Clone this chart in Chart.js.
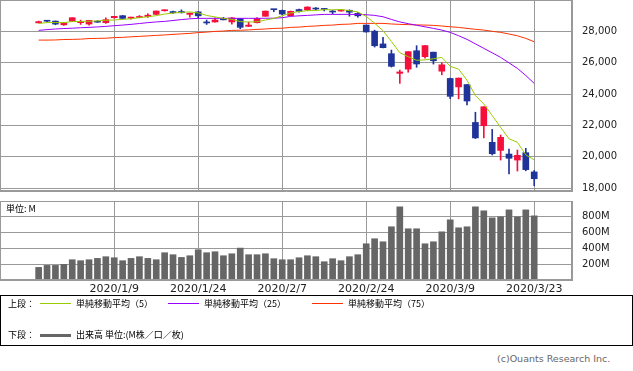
<!DOCTYPE html>
<html>
<head>
<meta charset="utf-8">
<script src="https://cdn.jsdelivr.net/npm/chart.js@4"></script>
<style>
  body { margin: 0; width: 633px; height: 371px; background: #fff; position: relative; overflow: hidden; font-family: "DejaVu Sans", sans-serif; }
  canvas { position: absolute; left: 0; }
  #price { top: 0; }
  #vol { top: 201px; }
  .t { position: absolute; font-family: "Noto Sans CJK JP", sans-serif; font-size: 9px; line-height: 10px; color: #000; white-space: nowrap; }
  .ln { position: absolute; width: 31px; height: 1px; }
  #legend { position: absolute; left: 0; top: 295px; width: 631px; height: 49px; border: 1px solid #000; }
  #copy { position: absolute; left: 497px; top: 353px; font-size: 9.5px; color: #666; white-space: nowrap; }
</style>
</head>
<body>
<canvas id="price" width="633" height="200"></canvas>
<canvas id="vol" width="633" height="96"></canvas>
<div class="t" style="left:6px;top:204px;">単位: M</div>
<div id="legend"></div>
<div class="t" style="left:8px;top:299px;">上段：</div>
<div class="ln" style="left:40px;top:303px;background:#99cc00;"></div>
<div class="t" style="left:76px;top:299px;">単純移動平均（5）</div>
<div class="ln" style="left:168px;top:303px;background:#9900ff;"></div>
<div class="t" style="left:204px;top:299px;">単純移動平均（25）</div>
<div class="ln" style="left:312px;top:303px;background:#ff3300;"></div>
<div class="t" style="left:348px;top:299px;">単純移動平均（75）</div>
<div class="t" style="left:8px;top:330px;">下段：</div>
<div class="ln" style="left:40px;top:334px;height:3px;background:#666;"></div>
<div class="t" style="left:76px;top:330px;">出来高 単位:(M株／口／枚)</div>
<div id="copy">(c)Ouants Research Inc.</div>
<script>
// trading days shown on the chart
const dates = ['2019/12/26','2019/12/27','2019/12/30','2019/12/31','2020/1/2','2020/1/3','2020/1/6','2020/1/7','2020/1/8','2020/1/9',
  '2020/1/10','2020/1/13','2020/1/14','2020/1/15','2020/1/16','2020/1/17','2020/1/21','2020/1/22','2020/1/23','2020/1/24',
  '2020/1/27','2020/1/28','2020/1/29','2020/1/30','2020/1/31','2020/2/3','2020/2/4','2020/2/5','2020/2/6','2020/2/7',
  '2020/2/10','2020/2/11','2020/2/12','2020/2/13','2020/2/14','2020/2/18','2020/2/19','2020/2/20','2020/2/21','2020/2/24',
  '2020/2/25','2020/2/26','2020/2/27','2020/2/28','2020/3/2','2020/3/3','2020/3/4','2020/3/5','2020/3/6','2020/3/9',
  '2020/3/10','2020/3/11','2020/3/12','2020/3/13','2020/3/16','2020/3/17','2020/3/18','2020/3/19','2020/3/20','2020/3/23'];
const tickIdx = [9, 19, 29, 39, 49, 59];
const priceTicks = [18000, 20000, 22000, 24000, 26000, 28000];
const volTicks = [200, 400, 600, 800];

const open  = [28539,28675,28654,28415,28639,28553,28465,28639,28556,28874,29000,28842,28885,28940,29082,29313,29225,29263,29080,29243,
  28542,28597,28820,28600,28813,28319,28550,28961,29390,29340,29000,29390,29365,29450,29440,29279,29297,29345,29146,28402,
  28008,27196,26572,25320,25590,26762,26383,26671,25457,24992,24453,24604,22184,21974,20917,20400,20169,19786,20254,19028];
const high  = [28655,28701,28664,28547,28872,28716,28709,28685,28866,28958,29009,28910,29009,29127,29300,29374,29290,29373,29170,29264,
  28723,28856,28892,28890,28813,28590,28880,29301,29409,29360,29300,29416,29568,29520,29464,29340,29409,29369,29200,28402,
  28075,27618,26805,25528,26706,27084,27102,26671,25994,25018,25020,24604,22837,23186,21743,21380,20488,20424,20531,19122];
const low   = [28535,28608,28419,28376,28627,28440,28393,28565,28502,28839,28784,28782,28870,28888,29068,29289,29150,29170,28904,28870,
  28440,28580,28729,28460,28169,28300,28540,28961,29250,29060,28990,29228,29345,29370,29300,29117,29290,28966,28900,27944,
  26997,26940,25720,24681,25391,25706,26286,25911,25226,23700,23690,23300,21155,21200,20110,19786,18900,19085,19100,18150];
const close = [28621,28645,28462,28538,28869,28635,28703,28584,28745,28957,28824,28907,28940,29030,29298,29348,29196,29186,29160,28990,
  28536,28723,28734,28859,28256,28400,28808,29291,29380,29103,29277,29276,29551,29423,29398,29232,29348,29220,28992,27961,
  27081,26958,25767,25409,26703,25917,27091,26121,25865,23851,25018,23553,21200,23186,20189,21237,19899,20087,19174,18592];

const ma5  = [28504,28558,28559,28557,28627,28630,28642,28666,28707,28725,28763,28803,28874,28932,29000,29105,29162,29212,29238,29176,
  29014,28919,28829,28768,28622,28595,28611,28723,28827,28996,29172,29265,29317,29326,29385,29376,29391,29324,29238,28951,
  28521,28042,27352,26635,26384,26151,26178,26248,26340,25769,25589,24882,23898,23362,22629,21873,21142,20920,20117,19798];
const ma25 = [28061,28110,28150,28180,28200,28230,28253,28280,28316,28360,28400,28444,28500,28555,28600,28635,28690,28750,28800,28827,
  28830,28830,28830,28830,28830,28830,28830,28835,28840,28870,28954,28990,29018,29050,29082,29082,29082,29082,29082,29060,
  29018,28930,28760,28600,28490,28390,28290,28189,28080,27934,27720,27487,27200,26913,26630,26338,25990,25636,25180,24680];
const ma75 = [27442,27442,27450,27480,27487,27500,27540,27551,27560,27600,27615,27650,27679,27710,27742,27770,27806,27840,27870,27920,
  27950,27997,28020,28061,28070,28090,28125,28150,28189,28200,28253,28270,28316,28340,28380,28400,28444,28460,28508,28508,
  28508,28508,28470,28444,28430,28410,28400,28380,28340,28291,28250,28189,28130,28080,28000,27934,27830,27716,27550,27334];

// volume in millions
const volume = [158,183,183,196,254,242,254,271,292,279,242,271,292,271,254,342,317,283,304,379,
  342,354,304,329,400,317,317,329,267,254,254,279,304,292,229,267,242,292,317,454,
  517,479,667,917,642,642,454,479,604,754,654,667,917,867,779,792,879,792,879,804];

const UP = '#f5103c', DOWN = '#1f3399', GRID = '#999';
const candleColor = close.map((c, i) => c >= open[i] ? UP : DOWN);
const xy = arr => arr.map((v, i) => ({ x: i, y: v }));

Chart.defaults.font.family = '"DejaVu Sans", sans-serif';
Chart.defaults.font.size = 10;

const frame = {
  id: 'frame',
  afterDraw(chart) {
    const { ctx, chartArea: a } = chart;
    ctx.save();
    ctx.strokeStyle = GRID;
    ctx.lineWidth = 1;
    ctx.strokeRect(a.left + 0.5, a.top + 0.5, a.right - a.left - 1, a.bottom - a.top - 1);
    ctx.restore();
  }
};

const xScale = (showLabels) => ({
  type: 'linear', min: -4.6, max: 63.5, offset: false,
  afterBuildTicks: s => { s.ticks = tickIdx.map(v => ({ value: v })); },
  ticks: { display: showLabels, autoSkip: false, maxRotation: 0, padding: 3, color: '#222', font: { size: 11 },
    callback: v => dates[v] },
  grid: { color: GRID, drawTicks: false, offset: false },
  border: { color: GRID },
  afterFit: s => { s.height = showLabels ? 17 : 0; s.paddingLeft = 0; s.paddingRight = 0; }
});

new Chart(document.getElementById('price'), {
  type: 'bar',
  data: {
    datasets: [
      { type: 'line', data: xy(ma5), borderColor: '#99cc00', borderWidth: 1, pointRadius: 0, order: 0 },
      { type: 'line', data: xy(ma25), borderColor: '#9900ff', borderWidth: 1, pointRadius: 0, order: 0 },
      { type: 'line', data: xy(ma75), borderColor: '#ff3300', borderWidth: 1, pointRadius: 0, order: 0 },
      { data: open.map((o, i) => ({ x: i, y: [o, close[i]] })), backgroundColor: candleColor,
        barThickness: 6, minBarLength: 1, grouped: false, order: 1 },
      { data: low.map((l, i) => ({ x: i, y: [l, high[i]] })), backgroundColor: candleColor,
        barThickness: 1, grouped: false, order: 2 }
    ]
  },
  options: {
    responsive: false, animation: false, devicePixelRatio: 1,
    layout: { padding: { left: 0, right: 0, top: 0, bottom: 9 } },
    plugins: { legend: { display: false }, tooltip: { enabled: false } },
    scales: {
      x: xScale(false),
      y: {
        position: 'right', min: 17810, max: 30000,
        afterBuildTicks: s => { s.ticks = priceTicks.map(v => ({ value: v })); },
        ticks: { padding: 10, color: '#222', callback: v => v.toLocaleString('en-US') },
        grid: { color: GRID, drawTicks: false },
        border: { color: GRID },
        afterFit: s => { s.width = 61; s.paddingTop = 0; s.paddingBottom = 0; }
      }
    }
  },
  plugins: [frame]
});

new Chart(document.getElementById('vol'), {
  type: 'bar',
  data: {
    datasets: [
      { data: xy(volume), backgroundColor: '#666', barThickness: 6 }
    ]
  },
  options: {
    responsive: false, animation: false, devicePixelRatio: 1,
    layout: { padding: 0 },
    plugins: { legend: { display: false }, tooltip: { enabled: false } },
    scales: {
      x: xScale(true),
      y: {
        position: 'right', min: 0, max: 990,
        afterBuildTicks: s => { s.ticks = volTicks.map(v => ({ value: v })); },
        ticks: { padding: 10, color: '#222', callback: v => v + 'M' },
        grid: { color: GRID, drawTicks: false },
        border: { color: GRID },
        afterFit: s => { s.width = 61; s.paddingTop = 0; s.paddingBottom = 0; }
      }
    }
  },
  plugins: [frame]
});
</script>
</body>
</html>
